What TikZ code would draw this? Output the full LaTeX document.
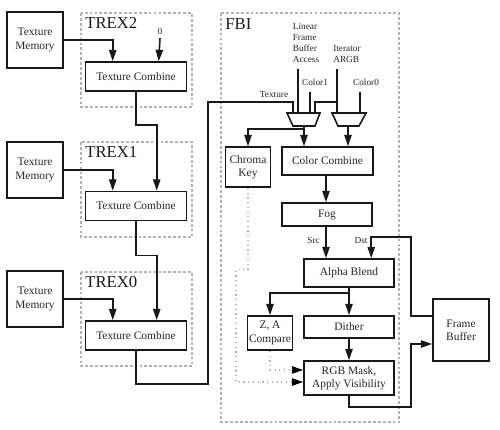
\documentclass[tikz,border=0pt]{standalone}
\usepackage{fontspec}
\setmainfont{Liberation Serif}
\usetikzlibrary{arrows.meta,calc}
\begin{document}
\begin{tikzpicture}[x=0.2mm,y=-0.2mm,
 box/.style={draw=black!90,line width=0.9pt,inner sep=0pt,align=center,font=\fontsize{6.5}{7.5}\selectfont,text=black!85},
 grp/.style={draw=black!30,dash pattern=on 1.6pt off 1.2pt,line width=0.6pt},
 lbl/.style={font=\fontsize{5.3}{6.2}\selectfont,inner sep=0pt,text=black!85},
 ttl/.style={font=\fontsize{9.5}{10}\selectfont,inner sep=0pt,anchor=base west,text=black!90},
 wire/.style={line width=0.9pt,draw=black!90},
 arr/.style={wire,-{Triangle[length=6.5pt,width=4.2pt]}},
 dotl/.style={draw=black!30,dotted,line width=0.7pt,-{Triangle[length=6.5pt,width=4.2pt,color=black]}},
]
\useasboundingbox[fill=white] (0,0) rectangle (500,429);

% group frames
\draw[grp] (81,13) rectangle (192,107);
\draw[grp] (81,142) rectangle (192,237);
\draw[grp] (81,272) rectangle (192,366);
\draw[grp] (221,13) rectangle (399,422);
\node[ttl] (t2) at (85,28) {TREX2};
\node[ttl] (t1) at (85,157) {TREX1};
\node[ttl] (t0) at (85,287) {TREX0};
\node[ttl] (fbi) at (225,29) {FBI};

% TREX boxes
\node[box,minimum width=11.2mm,minimum height=11.2mm] (tm2) at (35,40) {Texture\\Memory};
\node[box,minimum width=11.2mm,minimum height=11.2mm] (tm1) at (35,170) {Texture\\Memory};
\node[box,minimum width=11.2mm,minimum height=11.2mm] (tm0) at (35,299) {Texture\\Memory};
\node[box,minimum width=20.2mm,minimum height=5.8mm] (tc2) at (136,76.5) {Texture Combine};
\node[box,minimum width=20.2mm,minimum height=5.8mm] (tc1) at (136,206) {Texture Combine};
\node[box,minimum width=20.2mm,minimum height=5.8mm] (tc0) at (136,335.5) {Texture Combine};

% FBI boxes
\node[box,minimum width=9mm,minimum height=8mm] (ck) at (248,167) {Chroma\\Key};
\node[box,minimum width=18.2mm,minimum height=5.6mm] (cc) at (327.5,161) {Color Combine};
\node[box,minimum width=18mm,minimum height=4.6mm] (fog) at (327,214.5) {Fog};
\node[box,minimum width=18mm,minimum height=5.6mm] (ab) at (349,273) {Alpha Blend};
\node[box,minimum width=9mm,minimum height=6.8mm] (za) at (270,333) {Z, A\\Compare};
\node[box,minimum width=18mm,minimum height=4.4mm] (dith) at (349,327) {Dither};
\node[box,minimum width=18mm,minimum height=6.8mm] (rgb) at (349,378) {RGB Mask,\\Apply Visibility};
\node[box,minimum width=11.2mm,minimum height=12.4mm] (fb) at (461,330) {Frame\\Buffer};

% small labels
\node[lbl] (zero) at (160,31) {0};
\node[lbl,align=left] (lfba) at (306,43) {Linear\\Frame\\Buffer\\Access};
\node[lbl,align=left] (iter) at (347,54) {Iterator\\ARGB};
\node[lbl] (c1) at (315,82) {Color1};
\node[lbl] (c0) at (366,82) {Color0};
\node[lbl] (tex) at (274,94) {Texture};
\node[lbl] (src) at (313.5,240) {Src};
\node[lbl] (dst) at (361,240) {Dst};

% TREX wiring
\draw[arr] (tm2.east) -| ($(tc2.north west)+(28,0)$);
\draw[arr] (160,38) -- ($(tc2.north west)+(74,0)$);
\draw[arr] (tc2.south) -- ++(0,33) -| ($(tc1.north west)+(72,0)$);
\draw[arr] (tm1.east) -| ($(tc1.north west)+(28,0)$);
\draw[arr] (tc1.south) -- ++(0,34) -| ($(tc0.north west)+(72,0)$);
\draw[arr] (tm0.east) -| ($(tc0.north west)+(28,0)$);

% multiplexers
\coordinate (texin) at (293,113);
\draw[wire] (tc0.south) -- ++(0,33) -| (208,102) -| (texin);
\draw[wire] (298,69) -- (298,113);
\draw[wire] (310,92) -- (310,113);
\draw[wire] (337,69) -- (337,113);
\draw[wire] (337,102) -| (315,113);
\draw[wire] (360,92) -- (360,113);
\draw[wire,fill=white] (287,113) -- (320,113) -- (315,126) -- (293,126) -- cycle;
\draw[wire,fill=white] (332,113) -- (366,113) -- (359,126) -- (338,126) -- cycle;
\coordinate (lmo) at (304,126);
\coordinate (rmo) at (348,126);
\draw[arr] (lmo) -- (cc.north -| lmo);
\draw[arr] (304,129) -| (ck.north);
\draw[arr] (rmo) -- (cc.north -| rmo);

% FBI pipeline
\draw[arr] (326,175) -- (fog.north -| 326,0);
\draw[arr] (326,226) -- (ab.north -| 326,0);
\draw[arr] ($(fb.west)+(0,-14)$) -| (411,237) -| ($(ab.north west)+(68,0)$);
\draw[arr] (ab.south) -- (dith.north);
\draw[arr] ($(ab.south)+(0,5)$) -| (za.north);
\draw[arr] (dith.south) -- (rgb.north);
\draw[arr] (rgb.south) -- ++(0,11) -| (411,344) -- ($(fb.west)+(0,14)$);

% dotted visibility inputs
\draw[dotl] (za.south) |- ($(rgb.west)+(0,-8)$);
\draw[dotl] (ck.south) -- ++(0,82) -| (236,382) -- ($(rgb.west)+(0,4)$);
\end{tikzpicture}
\end{document}
